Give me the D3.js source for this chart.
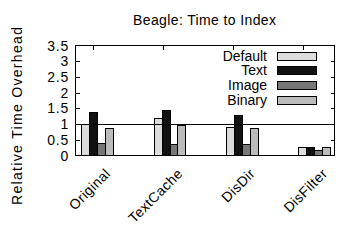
<!DOCTYPE html>
<html><head><meta charset="utf-8">
<script src="https://cdn.jsdelivr.net/npm/d3@7"></script>
<style>body{margin:0;background:#fff}text{font-family:"Liberation Sans",Arial,sans-serif;fill:#000}</style>
</head><body>
<svg id="c" width="360" height="252"></svg>
<script>
const categories = ["Original","TextCache","DisDir","DisFilter"];
const seriesNames = ["Default","Text","Image","Binary"];
const defaultVals = [1.0, 1.2, 0.91, 0.28];
const textVals    = [1.37, 1.45, 1.29, 0.28];
const imageVals   = [0.40, 0.38, 0.38, 0.16];
const binaryVals  = [0.88, 0.98, 0.88, 0.28];
const seriesVals = [defaultVals, textVals, imageVals, binaryVals];
const colors = ["#dcdcdc","#111111","#777777","#bbbbbb"];
const yTicks = [0,0.5,1,1.5,2,2.5,3,3.5];
const yTickLabels = ["0","0.5","1","1.5","2","2.5","3","3.5"];

const svg = d3.select("#c");
const L=75.5, R=334.5, T=45.5, B=155.5;
const x = d3.scaleLinear().domain([-0.3,3.28]).range([L,R]);
const y = d3.scaleLinear().domain([0,3.5]).range([B,T]);
const bw = 0.109;

// bars
seriesVals.forEach((vals,j)=>{
  svg.append("g").selectAll("rect").data(vals).join("rect")
    .attr("x",(d,i)=>Math.round(x(i + (j-2)*bw))+0.5)
    .attr("width",Math.round(x(bw)-x(0)))
    .attr("y",d=>Math.round(y(d))+0.5)
    .attr("height",d=>B-(Math.round(y(d))+0.5))
    .attr("fill",colors[j]).attr("stroke","#000").attr("stroke-width",1)
    .attr("shape-rendering","crispEdges");
});

// reference line at 1
svg.append("line").attr("x1",L).attr("x2",R).attr("y1",Math.round(y(1))+0.5).attr("y2",Math.round(y(1))+0.5)
  .attr("stroke","#000").attr("stroke-width",1).attr("shape-rendering","crispEdges");

// frame
svg.append("rect").attr("x",L).attr("y",T).attr("width",R-L).attr("height",B-T)
  .attr("fill","none").attr("stroke","#000").attr("stroke-width",1).attr("shape-rendering","crispEdges");

// y ticks (inward both sides)
const yt = svg.append("g").attr("shape-rendering","crispEdges");
yTicks.forEach((t,i)=>{
  const ty = Math.round(y(t))+0.5;
  if(t>0 && t<3.5){
    yt.append("line").attr("x1",L).attr("x2",L+4).attr("y1",ty).attr("y2",ty).attr("stroke","#000");
    yt.append("line").attr("x1",R-4).attr("x2",R).attr("y1",ty).attr("y2",ty).attr("stroke","#000");
  }
  yt.append("text").attr("x",69).attr("y",y(t)).attr("dy","0.36em")
    .attr("text-anchor","end").attr("font-size",14).attr("letter-spacing",0.8).text(yTickLabels[i]);
});

// top x ticks
categories.forEach((c,i)=>{
  const tx = Math.round(x(i*0.966-0.06))+0.5;
  svg.append("line").attr("x1",tx).attr("x2",tx).attr("y1",T).attr("y2",T+4)
    .attr("stroke","#000").attr("shape-rendering","crispEdges");
});

// x labels
categories.forEach((c,i)=>{
  const cx = x(i)+14, cy = B+19;
  svg.append("text").attr("transform",`translate(${cx},${cy}) rotate(-45)`)
    .attr("text-anchor","end").attr("font-size",14).attr("letter-spacing",0.4).text(c);
});

// legend
const lg = svg.append("g");
seriesNames.forEach((s,j)=>{
  const cy = 55.5 + j*14.7;
  lg.append("text").attr("x",267).attr("y",cy).attr("dy","0.36em")
    .attr("text-anchor","end").attr("font-size",14).text(s);
  lg.append("rect").attr("x",277.5).attr("y",Math.round(cy-4)+0.5).attr("width",39).attr("height",8)
    .attr("fill",colors[j]).attr("stroke","#000").attr("stroke-width",1).attr("shape-rendering","crispEdges");
});

// title
svg.append("text").attr("x",204.5).attr("y",25).attr("text-anchor","middle")
  .attr("font-size",14).attr("textLength",143).attr("lengthAdjust","spacing").text("Beagle: Time to Index");

// y label
svg.append("text").attr("transform","translate(22,116) rotate(-90)")
  .attr("text-anchor","middle").attr("font-size",14).attr("textLength",178).attr("lengthAdjust","spacing")
  .text("Relative Time Overhead");
</script>
</body></html>
